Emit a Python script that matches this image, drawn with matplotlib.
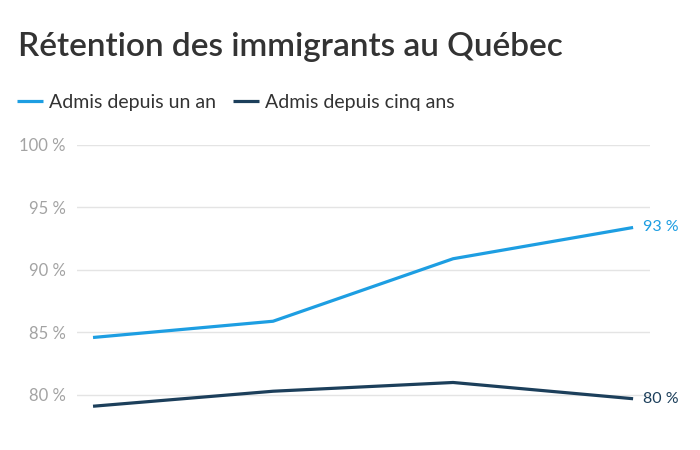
import matplotlib.pyplot as plt

# ==============================
# DONNÉES
# ==============================
periodes = [0, 1, 2, 3]
un_an = [84.6, 85.9, 90.9, 93.4]
cinq_ans = [79.1, 80.3, 81.0, 79.7]
y_ticks = [80, 85, 90, 95, 100]

BLEU = '#1d9ee2'
MARINE = '#1c3f5b'
GRIS = '#a3a3a3'

plt.rcParams['font.family'] = ['Lato', 'DejaVu Sans']

fig = plt.figure(figsize=(7, 4.5), dpi=100)
ax = fig.add_axes([0.11, 0.0667, 0.8186, 0.6111])

ax.plot(periodes, un_an, color=BLEU, lw=2.3, label='Admis depuis un an', solid_capstyle='butt')
ax.plot(periodes, cinq_ans, color=MARINE, lw=2.3, label='Admis depuis cinq ans', solid_capstyle='butt')

# étiquettes de fin de ligne
ax.annotate(f"{un_an[-1]:.0f} %", (periodes[-1], un_an[-1]), xytext=(7, 0),
            textcoords='offset points', va='center', ha='left', color=BLEU, fontsize=11.5)
ax.annotate(f"{cinq_ans[-1]:.0f} %", (periodes[-1], cinq_ans[-1]), xytext=(7, 0),
            textcoords='offset points', va='center', ha='left', color=MARINE, fontsize=11.5)

ax.set_xlim(-0.089, 3.094)
ax.set_ylim(78, 100)
ax.set_yticks(y_ticks)
ax.set_yticklabels([f"{v} %" for v in y_ticks])
ax.set_xticks([])
ax.tick_params(axis='y', length=0, pad=8, labelsize=12, labelcolor=GRIS)
ax.grid(axis='y', color='#e4e4e4', lw=1)
ax.set_axisbelow(True)
for s in ax.spines.values():
    s.set_visible(False)

fig.text(0.0257, 0.8756, "Rétention des immigrants au Québec", fontsize=24,
         fontweight='semibold', color='#333333', va='baseline')

fig.legend(loc='center left', bbox_to_anchor=(0.0243, 0.773), ncol=2, frameon=False,
           fontsize=14, handlelength=1.34, handletextpad=0.31, columnspacing=0.87,
           borderpad=0, borderaxespad=0, labelcolor='#333333')

fig.savefig('out.png', dpi=100)
